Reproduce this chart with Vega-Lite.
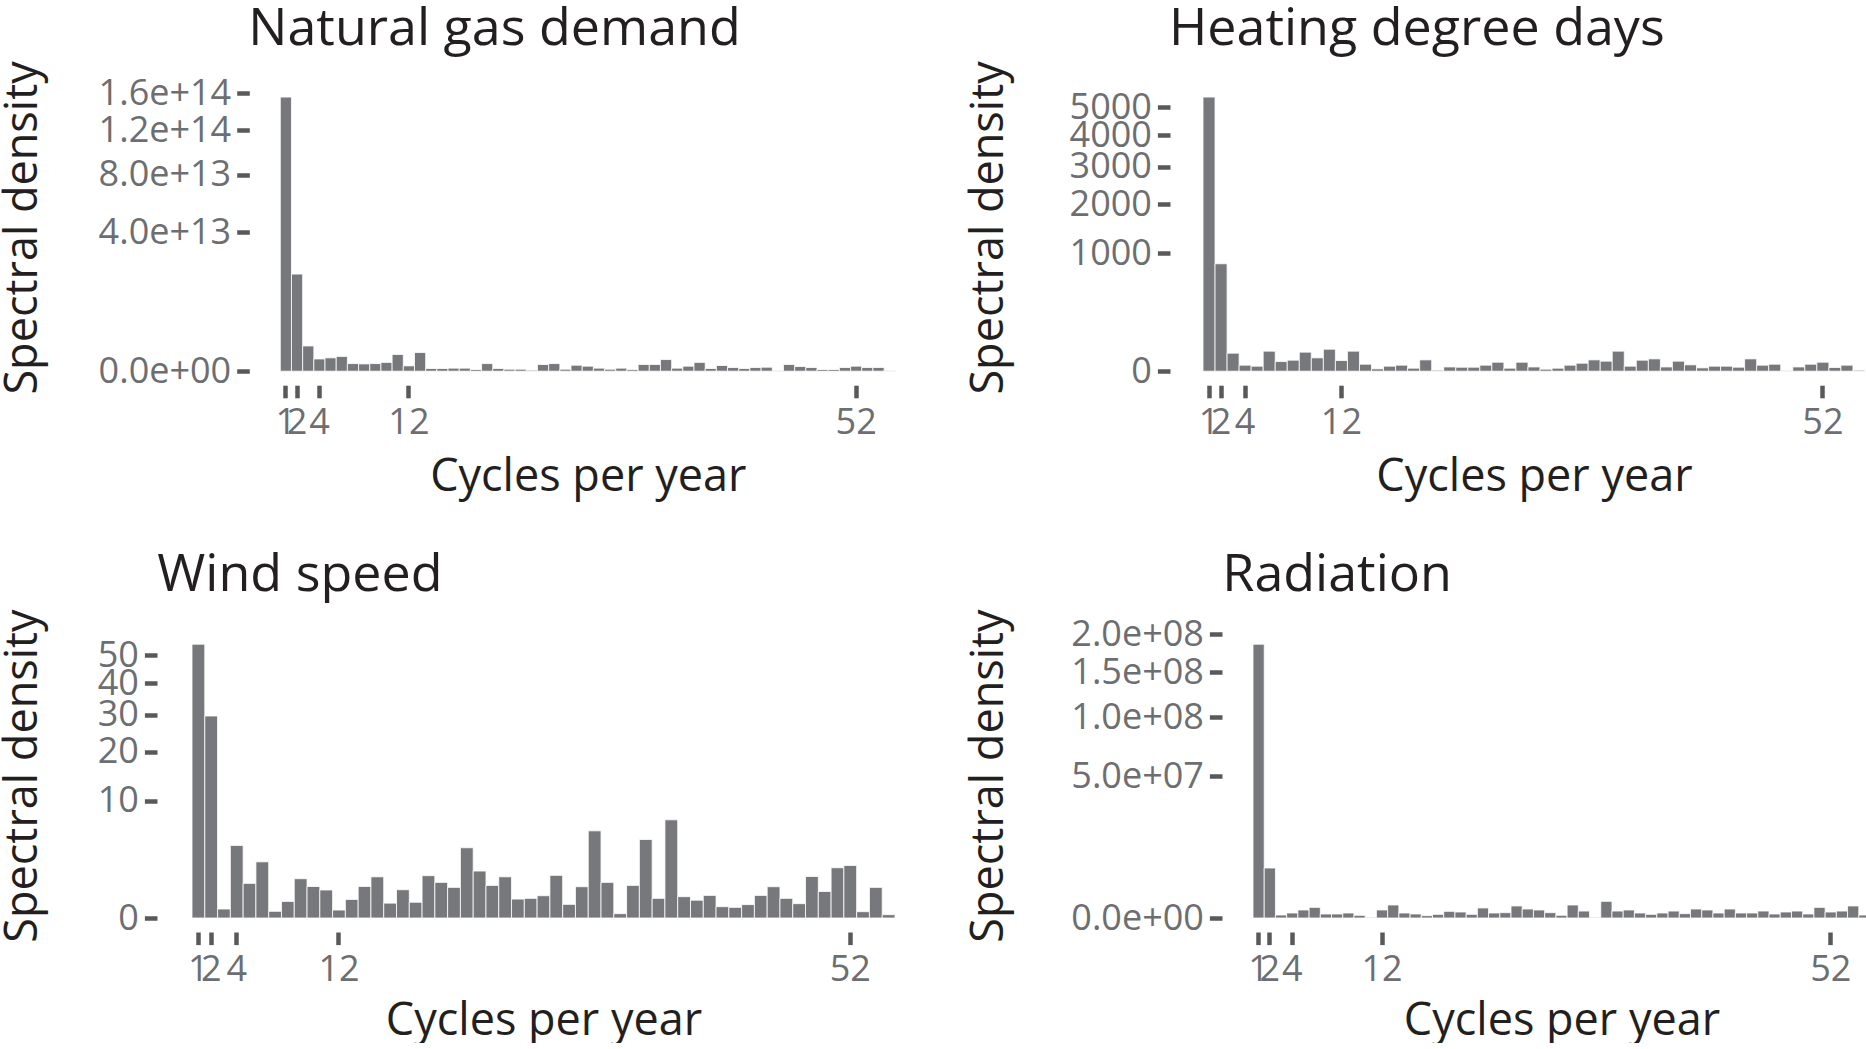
{
  "$schema": "https://vega.github.io/schema/vega-lite/v6.json",
  "padding": {"top": 2, "left": 0, "right": 0, "bottom": 0},
  "background": "white",
  "config": {
    "font": "Open Sans",
    "view": {"stroke": null},
    "axis": {
      "domain": false,
      "grid": false,
      "tickColor": "#58595b",
      "tickWidth": 4.5,
      "tickSize": 12.6,
      "labelColor": "#6d6e71",
      "labelFont": "Open Sans",
      "labelFontSize": 36,
      "labelOverlap": false,
      "titleFont": "Open Sans",
      "titleFontSize": 45,
      "titleFontWeight": "normal",
      "titleColor": "#231f20"
    },
    "title": {
      "font": "Open Sans",
      "fontSize": 52,
      "fontWeight": "normal",
      "color": "#231f20",
      "anchor": "start",
      "frame": "group",
      "baseline": "alphabetic"
    },
    "bar": {"color": "#77787b", "stroke": "white", "strokeWidth": 0.8}
  },
  "datasets": {
    "gas": [
      {"f":1,"v":1.554e14},{"f":2,"v":1.95e13},{"f":3,"v":1.32e12},{"f":4,"v":3.1e11},{"f":5,"v":3.7e11},
      {"f":6,"v":4.5e11},{"f":7,"v":1.2e11},{"f":8,"v":1.1e11},{"f":9,"v":1.2e11},{"f":10,"v":1.6e11},
      {"f":11,"v":5.8e11},{"f":12,"v":5.9e10},{"f":13,"v":7.2e11},{"f":14,"v":1.5e10},{"f":15,"v":1.5e10},
      {"f":16,"v":1.9e10},{"f":17,"v":1.9e10},{"f":18,"v":5.8e9},{"f":19,"v":1.2e11},{"f":20,"v":1.5e10},
      {"f":21,"v":8e9},{"f":22,"v":8e9},{"f":23,"v":2e9},{"f":24,"v":9.3e10},{"f":25,"v":1.2e11},
      {"f":26,"v":8e9},{"f":27,"v":7.4e10},{"f":28,"v":5.2e10},{"f":29,"v":1.9e10},{"f":30,"v":8e9},
      {"f":31,"v":1.9e10},{"f":32,"v":5.8e9},{"f":33,"v":9.3e10},{"f":34,"v":9.3e10},{"f":35,"v":2.8e11},
      {"f":36,"v":1.9e10},{"f":37,"v":5.2e10},{"f":38,"v":1.6e11},{"f":39,"v":1.5e10},{"f":40,"v":6.7e10},
      {"f":41,"v":2.8e10},{"f":42,"v":1.5e10},{"f":43,"v":2.8e10},{"f":44,"v":3.3e10},{"f":45,"v":1e9},
      {"f":46,"v":9.3e10},{"f":47,"v":4.5e10},{"f":48,"v":2.8e10},{"f":49,"v":5.8e9},{"f":50,"v":5.8e9},
      {"f":51,"v":2.8e10},{"f":52,"v":5.2e10},{"f":53,"v":2.8e10},{"f":54,"v":2.8e10},{"f":55,"v":1e9}
    ],
    "hdd": [
      {"f":1,"v":5390},{"f":2,"v":828},{"f":3,"v":23.3},{"f":4,"v":2.6},{"f":5,"v":1.8},
      {"f":6,"v":28.8},{"f":7,"v":6.7},{"f":8,"v":8.7},{"f":9,"v":26.0},{"f":10,"v":12.8},
      {"f":11,"v":34.8},{"f":12,"v":8.2},{"f":13,"v":28.8},{"f":14,"v":3.5},{"f":15,"v":0.39},
      {"f":16,"v":1.8},{"f":17,"v":2.6},{"f":18,"v":0.65},{"f":19,"v":9.2},{"f":20,"v":0.07},
      {"f":21,"v":1.3},{"f":22,"v":1.15},{"f":23,"v":1.15},{"f":24,"v":2.6},{"f":25,"v":5.8},
      {"f":26,"v":0.65},{"f":27,"v":5.8},{"f":28,"v":1.3},{"f":29,"v":0.29},{"f":30,"v":0.65},
      {"f":31,"v":2.6},{"f":32,"v":4.6},{"f":33,"v":9.2},{"f":34,"v":7.2},{"f":35,"v":28.8},
      {"f":36,"v":1.8},{"f":37,"v":8.7},{"f":38,"v":10.9},{"f":39,"v":1.3},{"f":40,"v":7.2},
      {"f":41,"v":2.9},{"f":42,"v":0.8},{"f":43,"v":1.8},{"f":44,"v":1.8},{"f":45,"v":1.15},
      {"f":46,"v":10.9},{"f":47,"v":2.6},{"f":48,"v":3.5},{"f":49,"v":0.03},{"f":50,"v":1.3},
      {"f":51,"v":3.5},{"f":52,"v":5.8},{"f":53,"v":1.0},{"f":54,"v":2.6},{"f":55,"v":0.07}
    ],
    "wind": [
      {"f":1,"v":54.4},{"f":2,"v":29.6},{"f":3,"v":0.0585},{"f":4,"v":3.82},{"f":5,"v":0.87},
      {"f":6,"v":2.29},{"f":7,"v":0.032},{"f":8,"v":0.2},{"f":9,"v":1.12},{"f":10,"v":0.72},
      {"f":11,"v":0.57},{"f":12,"v":0.046},{"f":13,"v":0.25},{"f":14,"v":0.72},{"f":15,"v":1.23},
      {"f":16,"v":0.16},{"f":17,"v":0.58},{"f":18,"v":0.18},{"f":19,"v":1.3},{"f":20,"v":0.92},
      {"f":21,"v":0.68},{"f":22,"v":3.58},{"f":23,"v":1.6},{"f":24,"v":0.77},{"f":25,"v":1.23},
      {"f":26,"v":0.26},{"f":27,"v":0.28},{"f":28,"v":0.36},{"f":29,"v":1.32},{"f":30,"v":0.135},
      {"f":31,"v":0.71},{"f":32,"v":5.51},{"f":33,"v":0.92},{"f":34,"v":0.0136},{"f":35,"v":0.77},
      {"f":36,"v":4.47},{"f":37,"v":0.28},{"f":38,"v":6.99},{"f":39,"v":0.33},{"f":40,"v":0.23},
      {"f":41,"v":0.37},{"f":42,"v":0.093},{"f":43,"v":0.082},{"f":44,"v":0.13},{"f":45,"v":0.37},
      {"f":46,"v":0.71},{"f":47,"v":0.28},{"f":48,"v":0.149},{"f":49,"v":1.25},{"f":50,"v":0.51},
      {"f":51,"v":1.83},{"f":52,"v":2.0},{"f":53,"v":0.029},{"f":54,"v":0.68},{"f":55,"v":0.008}
    ],
    "rad": [
      {"f":1,"v":1.86e8},{"f":2,"v":6.2e6},{"f":3,"v":2.2e4},{"f":4,"v":6.2e4},{"f":5,"v":1.6e5},
      {"f":6,"v":2.8e5},{"f":7,"v":4e4},{"f":8,"v":4e4},{"f":9,"v":6.2e4},{"f":10,"v":1.8e4},
      {"f":11,"v":1.1e3},{"f":12,"v":1.6e5},{"f":13,"v":4.2e5},{"f":14,"v":6.2e4},{"f":15,"v":4e4},
      {"f":16,"v":1.35e4},{"f":17,"v":3.3e4},{"f":18,"v":1.1e5},{"f":19,"v":8.9e4},{"f":20,"v":3.3e4},
      {"f":21,"v":2.5e5},{"f":22,"v":6.2e4},{"f":23,"v":7.1e4},{"f":24,"v":3.6e5},{"f":25,"v":2.0e5},
      {"f":26,"v":1.6e5},{"f":27,"v":7.1e4},{"f":28,"v":1.8e4},{"f":29,"v":4.2e5},{"f":30,"v":1.2e5},
      {"f":31,"v":1.1e3},{"f":32,"v":6.9e5},{"f":33,"v":1.2e5},{"f":34,"v":1.6e5},{"f":35,"v":6.2e4},
      {"f":36,"v":3.3e4},{"f":37,"v":6.2e4},{"f":38,"v":1.2e5},{"f":39,"v":4.7e4},{"f":40,"v":2.0e5},
      {"f":41,"v":1.6e5},{"f":42,"v":6.2e4},{"f":43,"v":2.0e5},{"f":44,"v":6.2e4},{"f":45,"v":6.2e4},
      {"f":46,"v":1.2e5},{"f":47,"v":4e4},{"f":48,"v":8.9e4},{"f":49,"v":1.2e5},{"f":50,"v":4e4},
      {"f":51,"v":2.8e5},{"f":52,"v":8.9e4},{"f":53,"v":1.2e5},{"f":54,"v":3.6e5},{"f":55,"v":2.2e4}
    ]
  },
  "columns": 1,
  "align": "none",
  "spacing": 48,
  "concat": [
    {
      "spacing": 70,
      "hconcat": [
        {
          "width": 703.3, "height": 278.2,
          "title": {"text": "Natural gas demand", "dx": 56.3, "offset": 5.2},
          "data": {"name": "gas"},
          "mark": {"type": "bar"},
          "encoding": {
            "x": {"field": "f", "type": "ordinal", "scale": {"paddingInner": 0, "paddingOuter": 0, "range": [88.3, 703.3]},
              "axis": {"values": [1,2,4,12,52], "offset": 14, "labelAngle": 0, "labelPadding": 8, "title": "Cycles per year", "titleX": 395.8, "titleY": 105.7, "titleBaseline": "alphabetic"}},
            "y": {"field": "v", "type": "quantitative", "scale": {"type": "sqrt", "domain": [0, 1.601e14], "nice": false},
              "axis": {"values": [0, 4e13, 8e13, 1.2e14, 1.6e14], "offset": -57.3, "labelPadding": 6,
                "labelExpr": "datum.value == 0 ? '0.0e+00' : format(datum.value, '.1e')",
                "title": "Spectral density", "titleX": -213, "titleY": 134.4, "titleAngle": 270, "titleBaseline": "alphabetic"}}
          }
        },
        {
          "width": 662, "height": 278.2,
          "title": {"text": "Heating degree days", "dx": -34, "offset": 5.2},
          "data": {"name": "hdd"},
          "mark": {"type": "bar"},
          "encoding": {
            "x": {"field": "f", "type": "ordinal", "scale": {"paddingInner": 0, "paddingOuter": 0},
              "axis": {"values": [1,2,4,12,52], "offset": 14, "labelAngle": 0, "labelPadding": 8, "title": "Cycles per year", "titleY": 105.7, "titleBaseline": "alphabetic"}},
            "y": {"field": "v", "type": "quantitative", "scale": {"type": "sqrt", "domain": [0, 5552], "nice": false},
              "axis": {"values": [0, 1000, 2000, 3000, 4000, 5000], "format": "d", "offset": 33, "labelPadding": 6,
                "title": "Spectral density", "titleX": -167.9, "titleY": 134.4, "titleAngle": 270, "titleBaseline": "alphabetic"}}
          }
        }
      ]
    },
    {
      "spacing": 70,
      "hconcat": [
        {
          "width": 703, "height": 284,
          "title": {"text": "Wind speed", "dx": -34.7, "offset": 6.9},
          "data": {"name": "wind"},
          "mark": {"type": "bar"},
          "encoding": {
            "x": {"field": "f", "type": "ordinal", "scale": {"paddingInner": 0, "paddingOuter": 0},
              "axis": {"values": [1,2,4,12,52], "offset": 14, "labelAngle": 0, "labelPadding": 8, "title": "Cycles per year", "titleY": 102, "titleBaseline": "alphabetic"}},
            "y": {"field": "v", "type": "quantitative", "scale": {"type": "sqrt", "domain": [0, 58.51], "nice": false},
              "axis": {"values": [0, 10, 20, 30, 40, 50], "format": "d", "offset": 35, "labelPadding": 6,
                "title": "Spectral density", "titleX": -120.7, "titleY": 141.5, "titleAngle": 270, "titleBaseline": "alphabetic"}}
          }
        },
        {
          "width": 617, "height": 284,
          "title": {"text": "Radiation", "dx": -30.7, "offset": 6.9},
          "data": {"name": "rad"},
          "mark": {"type": "bar"},
          "encoding": {
            "x": {"field": "f", "type": "ordinal", "scale": {"paddingInner": 0, "paddingOuter": 0},
              "axis": {"values": [1,2,4,12,52], "offset": 14, "labelAngle": 0, "labelPadding": 8, "title": "Cycles per year", "titleY": 102, "titleBaseline": "alphabetic"}},
            "y": {"field": "v", "type": "quantitative", "scale": {"type": "sqrt", "domain": [0, 2.001e8], "nice": false},
              "axis": {"values": [0, 5e7, 1e8, 1.5e8, 2e8], "offset": 31, "labelPadding": 6,
                "labelExpr": "datum.value == 0 ? '0.0e+00' : replace(format(datum.value, '.1e'), 'e+', 'e+0')",
                "title": "Spectral density", "titleX": -219.4, "titleY": 141.5, "titleAngle": 270, "titleBaseline": "alphabetic"}}
          }
        }
      ]
    }
  ]
}
